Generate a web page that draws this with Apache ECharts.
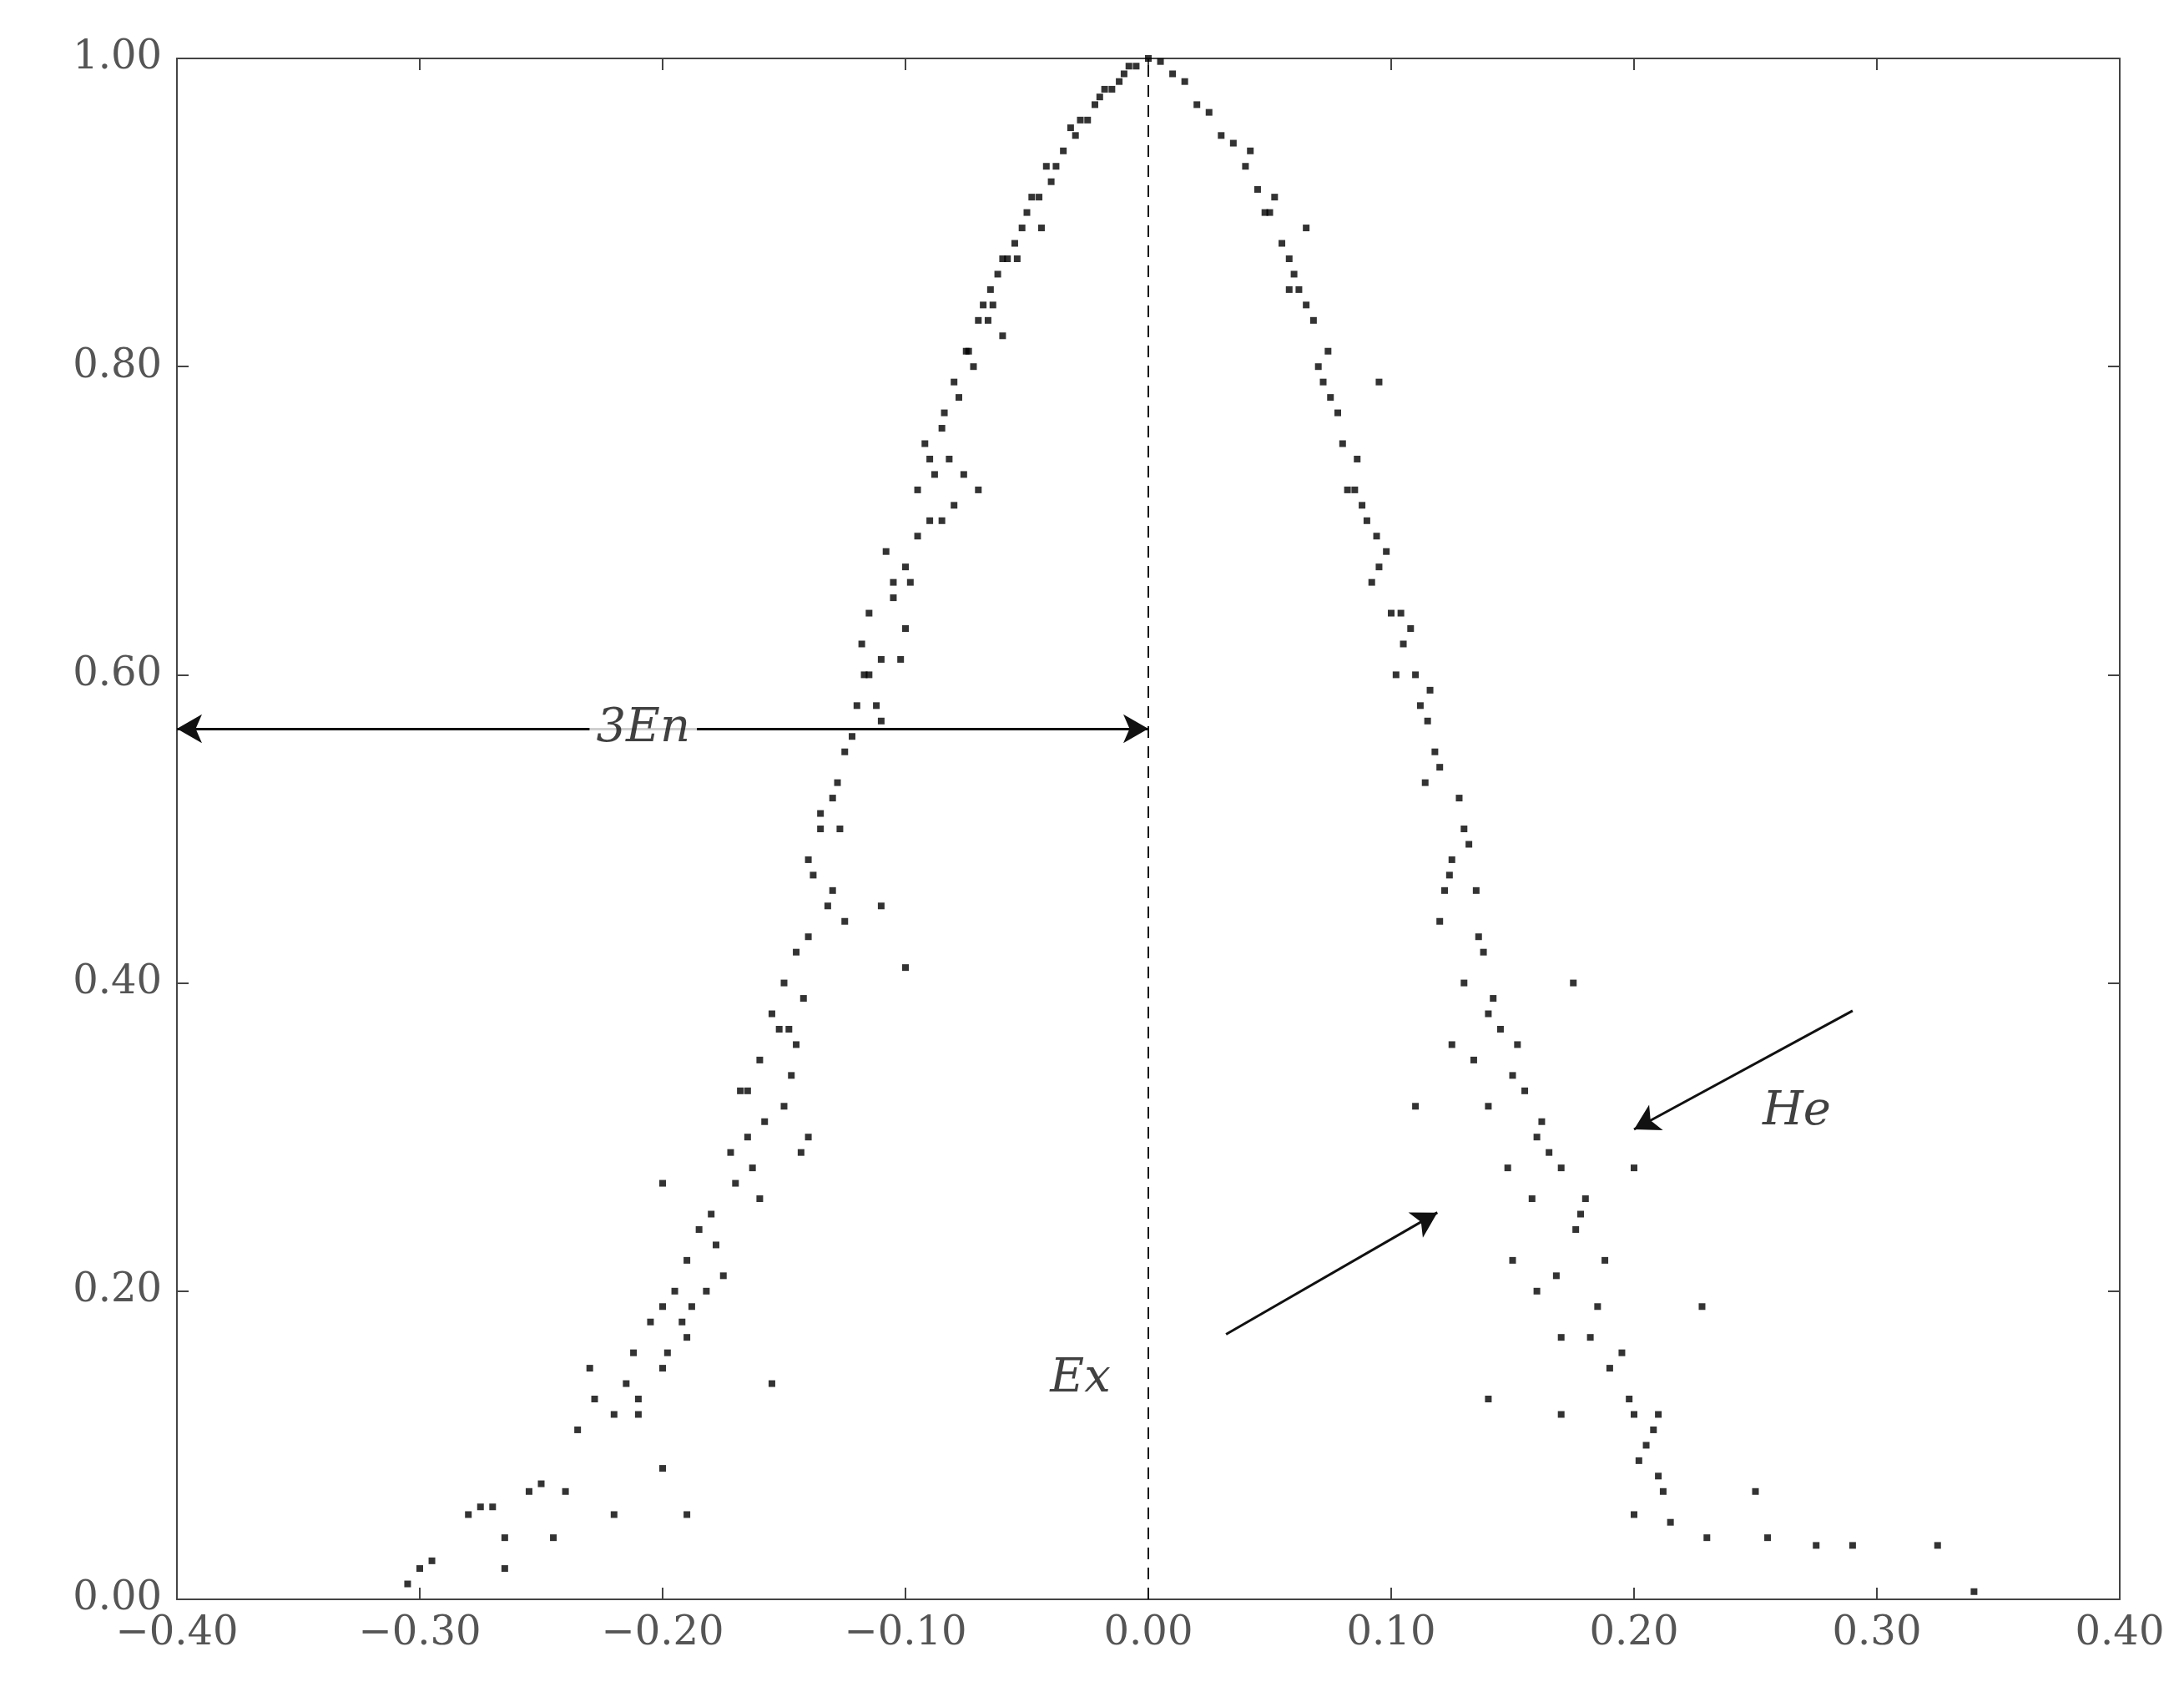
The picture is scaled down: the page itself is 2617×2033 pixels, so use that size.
<!DOCTYPE html><html><head><meta charset="utf-8"><script src="https://cdn.jsdelivr.net/npm/echarts@6/dist/echarts.min.js"></script>
<style>html,body{margin:0;background:#fff}#c{width:2617px;height:2033px}</style></head><body><div id="c"></div><script>
const xTicks=[-0.4,-0.3,-0.2,-0.1,0,0.1,0.2,0.3,0.4];
const yTicks=[0,0.2,0.4,0.6,0.8,1.0];
const leftX=[0,-0.005,-0.01,-0.015,-0.02,-0.025,-0.03,-0.035,-0.04,-0.045,-0.05,-0.055,-0.06,-0.065,-0.07,-0.075,-0.08,-0.085,-0.09,-0.07,-0.08,-0.085,-0.095,-0.1,-0.105,-0.1,-0.11,-0.115,-0.12,-0.11,-0.125,-0.13,-0.135,-0.14,-0.13,-0.125,-0.14,-0.15,-0.155,-0.145,-0.16,-0.15,-0.14,-0.165,-0.17,-0.16,-0.18,-0.19,-0.175,-0.2,-0.19,-0.2,-0.21,-0.23,-0.22,-0.235,-0.2,-0.24,-0.255,-0.27,-0.28,-0.22,-0.19,-0.245,-0.265,-0.3,-0.295,-0.305,-0.265,-0.155,-0.2,-0.1,-0.11,-0.09,-0.06,-0.012,-0.022,-0.032,-0.042,-0.052,-0.062,-0.072,-0.078,-0.088,-0.095,-0.105,-0.118,-0.122,-0.128,-0.138,-0.145,-0.152,-0.165,-0.172,-0.185,-0.195,-0.205,-0.215,-0.228,-0.25,-0.275,-0.135,-0.142,-0.158,-0.115,-0.108,-0.098,-0.068,-0.048,-0.038,-0.028,-0.018,-0.008,-0.058,-0.082,-0.092,-0.117,-0.127,-0.147,-0.163,-0.178,-0.188,-0.198,-0.21,-0.044,-0.054,-0.064,-0.074,-0.084,-0.076,-0.066,-0.102,-0.112,-0.132,-0.148,-0.143,-0.168,-0.182,-0.192,-0.212];
const leftY=[1.0,0.995,0.99,0.98,0.975,0.96,0.95,0.94,0.92,0.91,0.9,0.88,0.87,0.85,0.83,0.81,0.79,0.76,0.74,0.72,0.71,0.7,0.69,0.67,0.65,0.63,0.61,0.6,0.58,0.57,0.55,0.52,0.5,0.48,0.46,0.44,0.43,0.4,0.38,0.36,0.35,0.32,0.3,0.3,0.27,0.26,0.25,0.22,0.21,0.19,0.17,0.15,0.13,0.15,0.12,0.11,0.085,0.07,0.07,0.06,0.055,0.055,0.055,0.04,0.04,0.02,0.025,0.01,0.02,0.14,0.27,0.41,0.45,0.7,0.82,0.985,0.97,0.955,0.93,0.89,0.86,0.8,0.78,0.73,0.72,0.66,0.62,0.56,0.53,0.47,0.42,0.37,0.33,0.29,0.24,0.2,0.18,0.14,0.13,0.075,0.06,0.51,0.39,0.31,0.64,0.68,0.66,0.84,0.91,0.93,0.96,0.98,0.995,0.87,0.74,0.75,0.6,0.5,0.34,0.28,0.23,0.19,0.16,0.12,0.89,0.87,0.84,0.81,0.77,0.73,0.83,0.61,0.58,0.45,0.37,0.29,0.33,0.2,0.18,0.16];
const rightX=[0.01,0.02,0.03,0.04,0.05,0.055,0.06,0.065,0.07,0.075,0.08,0.085,0.09,0.095,0.1,0.105,0.11,0.115,0.12,0.13,0.125,0.135,0.12,0.13,0.14,0.125,0.15,0.14,0.16,0.17,0.18,0.15,0.16,0.185,0.17,0.19,0.2,0.205,0.21,0.2,0.215,0.23,0.25,0.255,0.275,0.29,0.325,0.34,0.228,0.175,0.095,0.065,0.14,0.17,0.11,0.2,0.005,0.015,0.025,0.035,0.045,0.058,0.068,0.078,0.088,0.098,0.108,0.112,0.118,0.128,0.132,0.138,0.145,0.155,0.165,0.178,0.188,0.195,0.208,0.212,0.152,0.148,0.122,0.102,0.092,0.082,0.072,0.062,0.052,0.042,0.116,0.136,0.158,0.168,0.182,0.198,0.048,0.058,0.074,0.086,0.094,0.104,0.114,0.124,0.134,0.142,0.162,0.176,0.202,0.21];
const rightY=[0.99,0.97,0.95,0.93,0.9,0.88,0.86,0.84,0.8,0.78,0.75,0.72,0.7,0.67,0.64,0.62,0.6,0.57,0.54,0.5,0.48,0.46,0.44,0.4,0.38,0.36,0.34,0.32,0.3,0.28,0.26,0.22,0.2,0.19,0.17,0.15,0.12,0.1,0.08,0.055,0.05,0.04,0.07,0.04,0.035,0.035,0.035,0.005,0.19,0.4,0.79,0.89,0.13,0.12,0.32,0.28,0.998,0.985,0.965,0.945,0.915,0.87,0.83,0.77,0.71,0.68,0.63,0.58,0.55,0.52,0.49,0.42,0.37,0.33,0.29,0.25,0.22,0.16,0.11,0.07,0.36,0.28,0.46,0.6,0.66,0.72,0.79,0.85,0.91,0.94,0.59,0.43,0.26,0.21,0.17,0.13,0.9,0.85,0.81,0.74,0.69,0.64,0.53,0.47,0.35,0.39,0.31,0.24,0.09,0.12];
const pts=leftX.map((x,i)=>[x,leftY[i]]).concat(rightX.map((x,i)=>[x,rightY[i]]));
const fmt=v=>(v<0?'\u2212':'')+Math.abs(v).toFixed(2);
const lab={fontFamily:'DejaVu Serif',fontSize:48,color:'#555'};
const ax=(t,show,extra)=>Object.assign({type:'value',min:t[0],max:t[t.length-1],interval:0.1,axisLine:{show:true,onZero:false,lineStyle:{color:'#444',width:2}},axisTick:{inside:true,length:14,lineStyle:{color:'#444',width:2}},splitLine:{show:false},axisLabel:show?Object.assign({formatter:fmt,margin:18},lab):{show:false}},extra||{});
const c=echarts.init(document.getElementById('c'));
const txt={fontFamily:'DejaVu Serif',fontStyle:'italic',fontSize:56,color:'#111'};
c.setOption({animation:false,
grid:{left:212,right:77,top:70,bottom:117},
xAxis:[ax(xTicks,true,{position:'bottom'}),ax(xTicks,false,{position:'top'})],
yAxis:[ax(yTicks,true,{interval:0.2,position:'left'}),ax(yTicks,false,{interval:0.2,position:'right'})],
series:[{type:'scatter',data:pts,symbol:'rect',symbolSize:8,itemStyle:{color:'#000'},z:3,
markLine:{silent:true,symbolSize:[26,30],lineStyle:{color:'#111',width:3,type:'solid'},label:{show:false},
data:[
[{coord:[0,0],symbol:'none',lineStyle:{type:[14,10],width:2}},{coord:[0,1],symbol:'none'}],
[{coord:[-0.4,0.565],symbol:'arrow'},{coord:[0,0.565],symbol:'arrow'}],
[{coord:[0.29,0.382],symbol:'none'},{coord:[0.2,0.305],symbol:'arrow'}],
[{coord:[0.032,0.172],symbol:'none'},{coord:[0.119,0.251],symbol:'arrow'}]
]}},
{type:'scatter',z:5,data:[[-0.028,0.143,'Ex'],[0.267,0.316,'He'],[-0.208,0.565,'3En']],symbolSize:0,label:{show:true,position:'inside',formatter:p=>p.data[2],...txt,backgroundColor:'#fff',padding:[0,8]}}]});
</script></body></html>
